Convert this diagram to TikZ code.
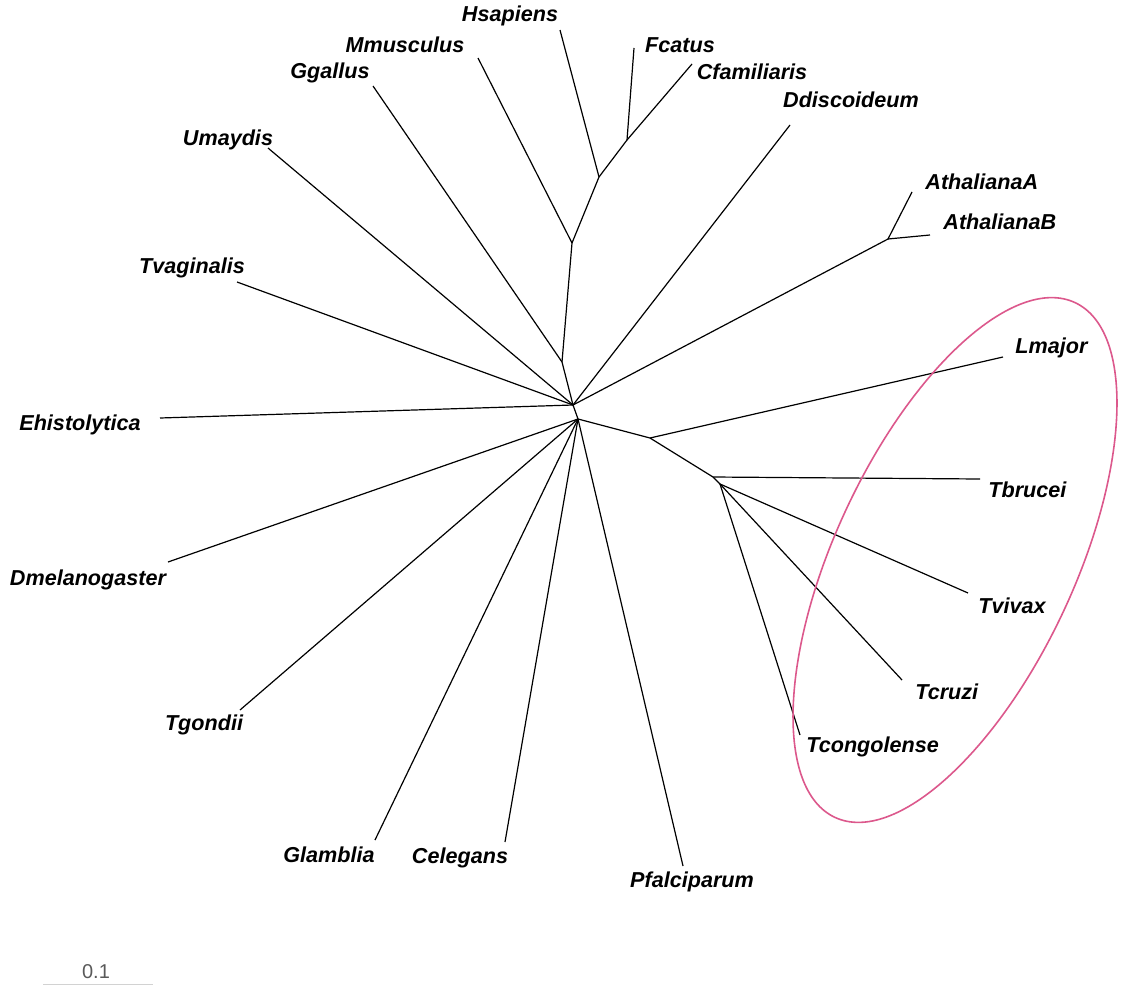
\documentclass[tikz,border=0pt]{standalone}
\usepackage{fontspec}
\setmainfont{Liberation Sans}
\usepackage{tikz}
\definecolor{cladepink}{RGB}{220,88,140}

\begin{document}
\begin{tikzpicture}[x=0.5pt,y=-0.5pt,
    taxon/.style={font=\fontsize{10.8}{13}\selectfont\bfseries\itshape,inner sep=0pt},
    branch/.style={line width=0.6pt},
    clade/.style={draw=cladepink,line width=0.8pt}]
          \useasboundingbox (0,0) rectangle (1124,985);
          %\draw[very thin,lightgray,step=50] (0,0) grid (1124,985);
          % inner nodes
          \coordinate (c1) at (573,405);
          \coordinate (c2) at (578,419);
          \coordinate (g1) at (562,362);
          \coordinate (m1) at (572,243);
          \coordinate (h1) at (599,177);
          \coordinate (f1) at (627,140);
          \coordinate (a1) at (888,239);
          \coordinate (k1) at (650,438);
          \coordinate (k2) at (713,477);
          \coordinate (k3) at (720,484);
          % leaf ends
          \coordinate (tHsap) at (560,30);
          \coordinate (tMmus) at (478,58);
          \coordinate (tFcat) at (634,48);
          \coordinate (tCfam) at (692,64);
          \coordinate (tGgal) at (373,86);
          \coordinate (tUmay) at (268,148);
          \coordinate (tTvag) at (237,282);
          \coordinate (tEhis) at (160,418);
          \coordinate (tDmel) at (168,562);
          \coordinate (tTgon) at (240,710);
          \coordinate (tGlam) at (375,840);
          \coordinate (tCele) at (505,842);
          \coordinate (tPfal) at (683,866);
          \coordinate (tTcon) at (800,735);
          \coordinate (tTcru) at (902,680);
          \coordinate (tTviv) at (968,593);
          \coordinate (tTbru) at (980,479);
          \coordinate (tLmaj) at (1003,357);
          \coordinate (tAthB) at (930,235);
          \coordinate (tAthA) at (912,192);
          \coordinate (tDdis) at (790,125);
          % labels
          \node[taxon] (Hsap) at (510,16) {Hsapiens};
          \node[taxon] (Mmus) at (405,45) {Mmusculus};
          \node[taxon] (Fcat) at (680,45) {Fcatus};
          \node[taxon] (Cfam) at (752,72) {Cfamiliaris};
          \node[taxon] (Ggal) at (330,73) {Ggallus};
          \node[taxon] (Umay) at (228,140) {Umaydis};
          \node[taxon] (Tvag) at (192,268) {Tvaginalis};
          \node[taxon] (Ehis) at (80,425) {Ehistolytica};
          \node[taxon] (Dmel) at (88,580) {Dmelanogaster};
          \node[taxon] (Tgon) at (204,725) {Tgondii};
          \node[taxon] (Glam) at (329,855) {Glamblia};
          \node[taxon] (Cele) at (460,858) {Celegans};
          \node[taxon] (Pfal) at (692,882) {Pfalciparum};
          \node[taxon,anchor=west] (Tcon) at (806,747) {Tcongolense};
          \node[taxon,anchor=west] (Tcru) at (915,692) {Tcruzi};
          \node[taxon,anchor=west] (Tviv) at (978,606) {Tvivax};
          \node[taxon,anchor=west] (Tbru) at (988,490) {Tbrucei};
          \node[taxon,anchor=west] (Lmaj) at (1015,348) {Lmajor};
          \node[taxon,anchor=west] (AthB) at (943,222) {AthalianaB};
          \node[taxon,anchor=west] (AthA) at (925,182) {AthalianaA};
          \node[taxon] (Ddis) at (851,100) {Ddiscoideum};
          % branches
          \draw[branch] (c1)--(c2);
          \draw[branch] (c1)--(g1)--(m1)--(h1)--(f1)--(tFcat);
          \draw[branch] (f1)--(tCfam);
          \draw[branch] (h1)--(tHsap);
          \draw[branch] (m1)--(tMmus);
          \draw[branch] (g1)--(tGgal);
          \draw[branch] (c1)--(tUmay);
          \draw[branch] (c1)--(tTvag);
          \draw[branch] (c1)--(tEhis);
          \draw[branch] (c1)--(tDdis);
          \draw[branch] (c1)--(a1)--(tAthA);
          \draw[branch] (a1)--(tAthB);
          \draw[branch] (c2)--(tDmel);
          \draw[branch] (c2)--(tTgon);
          \draw[branch] (c2)--(tGlam);
          \draw[branch] (c2)--(tCele);
          \draw[branch] (c2)--(tPfal);
          \draw[branch] (c2)--(k1)--(tLmaj);
          \draw[branch] (k1)--(k2)--(tTbru);
          \draw[branch] (k2)--(k3)--(tTviv);
          \draw[branch] (k3)--(tTcru);
          \draw[branch] (k3)--(tTcon);
          % kinetoplastid group
          \draw[clade,rotate around={65:(955,560)}] (955,560) ellipse [x radius=142pt,y radius=60pt];
          % scale
          \node[font=\fontsize{10}{12}\selectfont,text=gray!70!black,inner sep=0pt] (sb) at (96,972) {0.1};
          \coordinate (sbL) at (43,984);
          \coordinate (sbR) at (153,984);
          \draw[gray!35] (sbL)--(sbR);
        \end{tikzpicture}
\end{document}
